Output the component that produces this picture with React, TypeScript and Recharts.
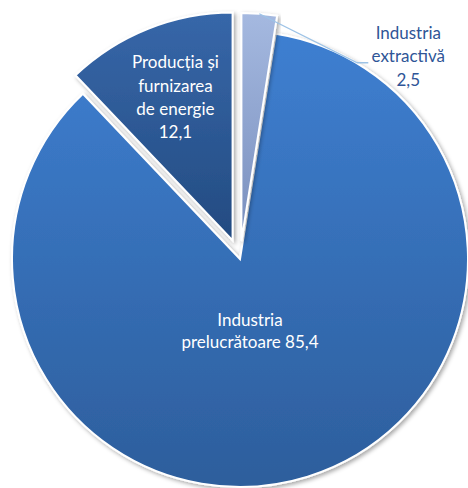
import { PieChart, Pie, Cell } from 'recharts';

const names = ['Industria extractivă', 'Industria prelucrătoare', 'Producția și furnizarea de energie'];
const values = [2.5, 85.4, 12.1];
const valueLabels = ['2,5', '85,4', '12,1'];
const labelLines = [
  ['Industria', 'extractivă', '2,5'],
  ['Industria', 'prelucrătoare 85,4'],
  ['Producția și', 'furnizarea', 'de energie', '12,1'],
];
const fills = ['url(#gExtr)', 'url(#gPrel)', 'url(#gEnerg)'];
// how far each slice is pulled out of the pie
const explode = [18, 0, 20];

const data = names.map((name, i) => ({ name, value: values[i], label: valueLabels[i] }));

const CX = 240;
const CY = 259;
const R = 228;
const RAD = Math.PI / 180;
const font = 'Lato, "Noto Sans", sans-serif';

function offsetFor(i: number) {
  // mid angle measured the way recharts does it (degrees, counter-clockwise from 3 o'clock)
  const total = values.reduce((a, b) => a + b, 0);
  const before = values.slice(0, i).reduce((a, b) => a + b, 0);
  const mid = 90 - ((before + values[i] / 2) / total) * 360;
  return {
    dx: Math.cos(mid * RAD) * explode[i],
    dy: -Math.sin(mid * RAD) * explode[i],
  };
}

function renderLabel(target: number) {
  return (props: any) => {
    const { index, cx, cy, midAngle, outerRadius } = props;
    if (index !== target) return null;
    const cos = Math.cos(-midAngle * RAD);
    const sin = Math.sin(-midAngle * RAD);
    const lines = labelLines[index];
    if (index === 0) {
      const sx = cx + outerRadius * cos;
      const sy = cy + outerRadius * sin;
      const mx = sx + 98;
      const my = sy + 49;
      return (
        <g>
          <polyline
            points={`${sx},${sy} ${mx},${my} ${mx + 11},${my}`}
            fill="none"
            stroke="#9dc3e6"
            strokeWidth={1.3}
          />
          <text x={mx + 51} y={my - 24} textAnchor="middle" fill="#2f5597" fontSize={17} fontFamily={font}>
            {lines.map((l, k) => (
              <tspan key={k} x={mx + 51} dy={k === 0 ? 0 : 23.5}>
                {l}
              </tspan>
            ))}
          </text>
        </g>
      );
    }
    const dist = index === 1 ? 75 : 154;
    const tx = index === 1 ? cx + 10 : cx + dist * cos;
    const ty = index === 1 ? cy + 72 : cy + dist * sin;
    const lh = index === 1 ? 22.5 : 23.3;
    const startY = ty - ((lines.length - 1) * lh) / 2 + 6;
    return (
      <text x={tx} y={startY} textAnchor="middle" fill="#ffffff" fontSize={17} fontFamily={font}>
        {lines.map((l, k) => (
          <tspan key={k} x={tx} dy={k === 0 ? 0 : lh}>
            {l}
          </tspan>
        ))}
      </text>
    );
  };
}

export default function App() {
  const drawOrder = [1, 2, 0];
  return (
    <div style={{ position: 'absolute', left: 0, top: 0, width: 468, height: 488, background: '#fff' }}>
      <PieChart width={468} height={488} margin={{ top: 0, right: 0, bottom: 0, left: 0 }}>
        <defs>
          <linearGradient id="gPrel" x1="0" y1="0" x2="0" y2="1">
            <stop offset="0%" stopColor="#3e7fd1" />
            <stop offset="100%" stopColor="#2d5e9c" />
          </linearGradient>
          <linearGradient id="gEnerg" x1="0" y1="0" x2="0" y2="1">
            <stop offset="0%" stopColor="#3767a9" />
            <stop offset="100%" stopColor="#234b81" />
          </linearGradient>
          <linearGradient id="gExtr" x1="0" y1="0" x2="0" y2="1">
            <stop offset="0%" stopColor="#a5b9e0" />
            <stop offset="100%" stopColor="#788ebd" />
          </linearGradient>
          <filter id="shadow" x="-10%" y="-10%" width="120%" height="120%">
            <feDropShadow dx="2" dy="2" stdDeviation="2" floodColor="#000" floodOpacity="0.35" />
          </filter>
        </defs>
        {drawOrder.map((target) => {
          const { dx, dy } = offsetFor(target);
          return (
            <Pie
              key={target}
              data={data}
              dataKey="value"
              nameKey="name"
              cx={CX + dx}
              cy={CY + dy}
              outerRadius={R}
              startAngle={90}
              endAngle={-270}
              stroke="none"
              label={renderLabel(target)}
              labelLine={false}
              isAnimationActive={false}
            >
              {data.map((d, i) => (
                <Cell
                  key={d.name}
                  fill={i === target ? fills[i] : 'none'}
                  stroke={i === target ? '#ffffff' : 'none'}
                  strokeWidth={2}
                  style={i === target ? { filter: 'url(#shadow)' } : undefined}
                />
              ))}
            </Pie>
          );
        })}
      </PieChart>
    </div>
  );
}
